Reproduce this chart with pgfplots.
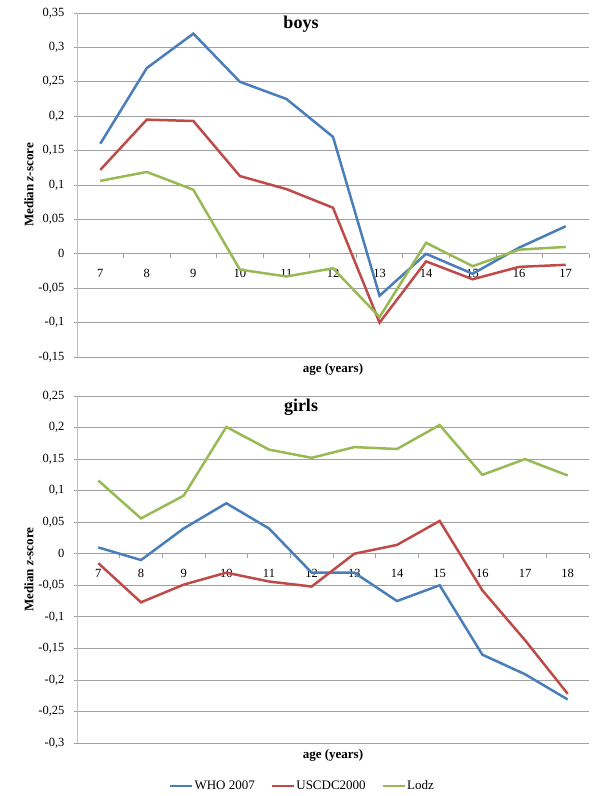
\documentclass[border=0pt]{standalone}
\usepackage{fontspec}
\setmainfont{Liberation Serif}
\usepackage{pgfplots}
\pgfplotsset{compat=1.18}
\definecolor{cWHO}{HTML}{4A7EBB}
\definecolor{cCDC}{HTML}{BE4B48}
\definecolor{cLodz}{HTML}{98B954}
\definecolor{gridc}{HTML}{A0A0A0}
\definecolor{yaxc}{HTML}{C0C0C0}
\pgfplotsset{
  mystyle/.style={
    scale only axis, width=512pt,
    axis x line=middle, axis y line=left,
    x axis line style={-, draw=gridc, line width=0.8pt},
    y axis line style={-, draw=yaxc, line width=0.8pt},
    ymajorgrids, grid style={draw=gridc, line width=0.8pt},
    enlargelimits=false, clip=false,
    major x tick style={draw=none},
    minor x tick style={draw=gridc, line width=0.8pt},
    minor tick length=4pt,
    major y tick style={draw=gridc, line width=0.8pt},
    major tick length=3pt,
    tick align=outside,
    /pgf/number format/assume math mode=true,
    ticklabel style={font=\fontsize{12.5}{14}\selectfont},
    xticklabel style={yshift=-9pt},
    yticklabel style={xshift=-6pt},
    title style={at={(axis description cs:0.4375,1)}, anchor=north, inner sep=0pt, yshift=-9pt, font=\fontsize{18}{20}\selectfont\bfseries},
    xlabel style={at={(axis description cs:0.5,0)}, anchor=north, inner sep=0pt, yshift=-6pt, font=\fontsize{13}{15}\selectfont\bfseries},
    ylabel style={at={([xshift=-48pt]axis description cs:0,0.5)}, anchor=center, font=\fontsize{13}{15}\selectfont\bfseries},
    xlabel={age (years)},
    ylabel={Median \textit{z}-score},
  }
}
\begin{document}
\begin{tikzpicture}
\useasboundingbox (0pt,0pt) rectangle (600pt,796pt);
% boys
\begin{axis}[mystyle, at={(77pt,439pt)}, anchor=south west, height=344pt,
  xmin=6.5, xmax=17.5, ymin=-0.15, ymax=0.35,
  xtick={7,...,17}, minor xtick={6.5,7.5,...,17.5},
  ytick={-0.15,-0.1,-0.05,0,0.05,0.1,0.15,0.2,0.25,0.3,0.35},
  yticklabels={{-0,15},{-0,1},{-0,05},{0},{0,05},{0,1},{0,15},{0,2},{0,25},{0,3},{0,35}},
  title={boys}]
\addplot[cWHO, line width=2.5pt] coordinates {(7,0.16)(8,0.27)(9,0.32)(10,0.25)(11,0.225)(12,0.17)(13,-0.061)(14,0)(15,-0.029)(16,0.009)(17,0.04)};
\addplot[cCDC, line width=2.5pt] coordinates {(7,0.122)(8,0.195)(9,0.193)(10,0.113)(11,0.094)(12,0.067)(13,-0.1)(14,-0.011)(15,-0.037)(16,-0.019)(17,-0.016)};
\addplot[cLodz, line width=2.5pt] coordinates {(7,0.106)(8,0.119)(9,0.093)(10,-0.023)(11,-0.033)(12,-0.021)(13,-0.092)(14,0.016)(15,-0.018)(16,0.006)(17,0.010)};
\end{axis}
% girls
\begin{axis}[mystyle, at={(77pt,53pt)}, anchor=south west, height=347pt,
  xmin=6.5, xmax=18.5, ymin=-0.3, ymax=0.25,
  xtick={7,...,18}, minor xtick={6.5,7.5,...,18.5},
  ytick={-0.3,-0.25,-0.2,-0.15,-0.1,-0.05,0,0.05,0.1,0.15,0.2,0.25},
  yticklabels={{-0,3},{-0,25},{-0,2},{-0,15},{-0,1},{-0,05},{0},{0,05},{0,1},{0,15},{0,2},{0,25}},
  title={girls},
  legend columns=3,
  legend style={at={(axis description cs:0.5,0)}, anchor=center, yshift=-43pt, xshift=-31pt, draw=none, fill=none,
    font=\fontsize{13}{15}\selectfont,
    /tikz/every even column/.append style={column sep=15pt},
    nodes={inner sep=1pt}},
  legend image code/.code={\draw[#1] (0pt,0pt) -- (22pt,0pt);}]
\addplot[cWHO, line width=2.5pt] coordinates {(7,0.010)(8,-0.010)(9,0.040)(10,0.080)(11,0.040)(12,-0.030)(13,-0.030)(14,-0.075)(15,-0.050)(16,-0.160)(17,-0.191)(18,-0.231)};
\addlegendentry{WHO 2007}
\addplot[cCDC, line width=2.5pt] coordinates {(7,-0.015)(8,-0.077)(9,-0.049)(10,-0.030)(11,-0.044)(12,-0.052)(13,0.0)(14,0.014)(15,0.052)(16,-0.058)(17,-0.137)(18,-0.222)};
\addlegendentry{USCDC2000}
\addplot[cLodz, line width=2.5pt] coordinates {(7,0.116)(8,0.056)(9,0.092)(10,0.201)(11,0.165)(12,0.152)(13,0.169)(14,0.166)(15,0.204)(16,0.125)(17,0.150)(18,0.124)};
\addlegendentry{Lodz}
\end{axis}
\end{tikzpicture}
\end{document}
